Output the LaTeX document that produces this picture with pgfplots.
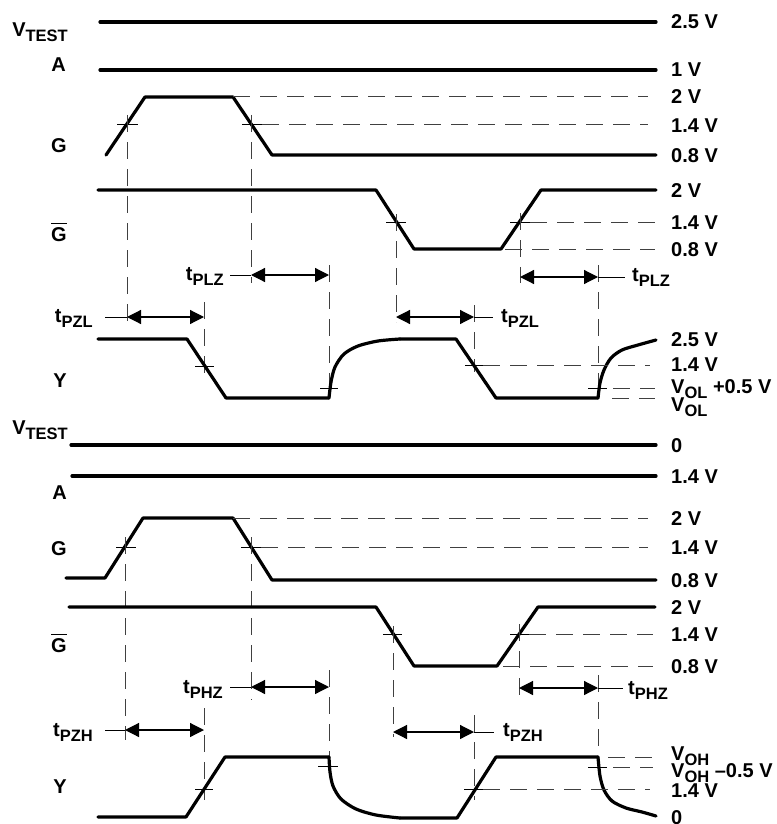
\documentclass[border=0pt]{standalone}
\usepackage{fontspec}
\setmainfont{Liberation Sans}
\usepackage{pgfplots}
\pgfplotsset{compat=1.18}
\usetikzlibrary{arrows.meta}
\newcommand\sub[1]{\raisebox{-5pt}{\fontsize{16.5}{16}\selectfont #1}}
\newcommand\gbar{\setbox0\hbox{G}\rlap{\raisebox{17pt}{\rule{\wd0}{1.4pt}}}\box0}
\tikzset{
 sig/.style={black, line width=3.2pt, line cap=round, line join=round},
 dsh/.style={black!75, line width=1pt, dash pattern=on 17pt off 10pt},
 thn/.style={black, line width=1pt},
 arr/.style={black, line width=1.2pt, {Triangle[length=14pt,width=14pt]}-{Triangle[length=14pt,width=14pt]}},
 lab/.style={font=\fontsize{20}{22}\selectfont\bfseries, inner sep=0pt},
}
\begin{document}
\begin{tikzpicture}
\begin{axis}[x=1pt, y=1pt, y dir=reverse, xmin=0, xmax=776, ymin=0, ymax=824,
  hide axis, clip=false]
\coordinate (BL) at (axis cs:0,824);
\coordinate (TR) at (axis cs:776,0);
% ================= TOP (LOW) SECTION =================
\addplot[sig] coordinates {(100,22) (656,22)};
\addplot[sig] coordinates {(100,70) (656,70)};
% G
\addplot[sig] coordinates {(106,155) (145,97) (233,97) (272,155) (656,155)};
\addplot[dsh] coordinates {(233,97) (648,97)};
\addplot[thn] coordinates {(117,125) (138,125)};
\addplot[thn] coordinates {(242,125) (262,125)};
\addplot[dsh] coordinates {(262,125) (648,125)};
\addplot[dsh] coordinates {(127,115) (127,328)};
\addplot[dsh] coordinates {(251,115) (251,283)};
% Gbar
\addplot[sig] coordinates {(98,190) (376,190) (414,249) (501,249) (541,190) (656,190)};
\addplot[thn] coordinates {(386,222) (406,222)};
\addplot[thn] coordinates {(510,222) (530,222)};
\addplot[dsh] coordinates {(530,222) (655,222)};
\addplot[dsh] coordinates {(505,249) (655,249)};
\addplot[dsh] coordinates {(396,214) (396,322)};
\addplot[dsh] coordinates {(520,213) (520,283)};
% arrow verticals
\addplot[dsh] coordinates {(329,265) (329,392)};
\addplot[dsh] coordinates {(598,265) (598,393)};
\addplot[dsh] coordinates {(204,302) (204,377)};
\addplot[dsh] coordinates {(474,305) (474,372)};
% arrows
\addplot[arr] coordinates {(251,275) (329,275)};
\addplot[arr] coordinates {(127,317) (204,317)};
\addplot[arr] coordinates {(520,277) (598,277)};
\addplot[arr] coordinates {(396,317) (474,317)};
\addplot[thn] coordinates {(230,275) (251,275)};
\addplot[thn] coordinates {(105,317) (127,317)};
\addplot[thn] coordinates {(598,277) (625,277)};
\addplot[thn] coordinates {(474,317) (493,317)};
% Y
\addplot[sig] coordinates {(98,339) (187,339) (226,398) (329,398)};
\addplot[sig, smooth] coordinates {(329,398) (331,382) (335,367) (344,354) (358,346) (378,341) (400,339)};
\addplot[sig] coordinates {(400,339) (456,339) (496,398) (598,398)};
\addplot[sig, smooth] coordinates {(598,398) (600,383) (604,370) (611,358) (622,350) (638,345) (656,340)};
\addplot[thn] coordinates {(195,366) (214,366)};
\addplot[thn] coordinates {(465,365) (483,365)};
\addplot[dsh] coordinates {(483,365) (650,365)};
\addplot[thn] coordinates {(320,388) (338,388)};
\addplot[thn] coordinates {(588,388) (607,388)};
\addplot[dsh] coordinates {(613,388) (655,388)};
\addplot[dsh] coordinates {(612,398) (655,398)};
% labels left
\node[lab, anchor=base east] at (axis cs:68,37) {V\sub{TEST}};
\node[lab, anchor=base east] at (axis cs:66,72) {A};
\node[lab, anchor=base east] at (axis cs:67,152) {G};
\node[lab, anchor=base east] at (axis cs:67,241) {\gbar};
\node[lab, anchor=base east] at (axis cs:224,280) {t\sub{PLZ}};
\node[lab, anchor=base east] at (axis cs:93,322) {t\sub{PZL}};
\node[lab, anchor=base east] at (axis cs:67,387) {Y};
\node[lab, anchor=base west] at (axis cs:632,281) {t\sub{PLZ}};
\node[lab, anchor=base west] at (axis cs:501,322) {t\sub{PZL}};
% labels right
\node[lab, anchor=base west] at (axis cs:671,29) {2.5 V};
\node[lab, anchor=base west] at (axis cs:671,77) {1 V};
\node[lab, anchor=base west] at (axis cs:671,104) {2 V};
\node[lab, anchor=base west] at (axis cs:671,132) {1.4 V};
\node[lab, anchor=base west] at (axis cs:671,162) {0.8 V};
\node[lab, anchor=base west] at (axis cs:671,197) {2 V};
\node[lab, anchor=base west] at (axis cs:671,229) {1.4 V};
\node[lab, anchor=base west] at (axis cs:671,256) {0.8 V};
\node[lab, anchor=base west] at (axis cs:671,346) {2.5 V};
\node[lab, anchor=base west] at (axis cs:671,371) {1.4 V};
\node[lab, anchor=base west] at (axis cs:671,393) {V\sub{OL} +0.5 V};
\node[lab, anchor=base west] at (axis cs:671,411) {V\sub{OL}};
% ================= BOTTOM (HIGH) SECTION =================
\addplot[sig] coordinates {(71,445) (656,445)};
\addplot[sig] coordinates {(72,476) (656,476)};
% G
\addplot[sig] coordinates {(66,578) (105,578) (143,518) (233,518) (272,580) (656,580)};
\addplot[dsh] coordinates {(233,518) (648,518)};
\addplot[thn] coordinates {(116,547) (136,547)};
\addplot[thn] coordinates {(241,547) (261,547)};
\addplot[dsh] coordinates {(261,547) (648,547)};
\addplot[dsh] coordinates {(125,537) (125,740)};
\addplot[dsh] coordinates {(251,537) (251,700)};
% Gbar
\addplot[sig] coordinates {(69,607) (376,607) (414,666) (497,666) (538,607) (655,607)};
\addplot[thn] coordinates {(383,634) (402,634)};
\addplot[thn] coordinates {(510,634) (529,634)};
\addplot[dsh] coordinates {(529,634) (653,634)};
\addplot[dsh] coordinates {(503,666) (653,666)};
\addplot[dsh] coordinates {(393,626) (393,737)};
\addplot[dsh] coordinates {(519,624) (519,697)};
% arrow verticals
\addplot[dsh] coordinates {(329,670) (329,777)};
\addplot[dsh] coordinates {(598,675) (598,777)};
\addplot[dsh] coordinates {(204,708) (204,800)};
\addplot[dsh] coordinates {(474,715) (474,800)};
% arrows
\addplot[arr] coordinates {(251,687) (329,687)};
\addplot[arr] coordinates {(125,730) (204,730)};
\addplot[arr] coordinates {(519,688) (598,688)};
\addplot[arr] coordinates {(393,732) (474,732)};
\addplot[thn] coordinates {(230,687) (251,687)};
\addplot[thn] coordinates {(105,730) (125,730)};
\addplot[thn] coordinates {(598,688) (623,688)};
\addplot[thn] coordinates {(474,732) (494,732)};
% Y
\addplot[sig] coordinates {(98,817) (186,817) (225,757) (329,757)};
\addplot[sig, smooth] coordinates {(329,757) (330,772) (333,786) (341,799) (356,809) (376,815) (400,818)};
\addplot[sig] coordinates {(400,818) (457,818) (496,757) (598,757)};
\addplot[sig, smooth] coordinates {(598,757) (600,776) (604,790) (612,801) (626,808) (642,812) (656,816)};
\addplot[thn] coordinates {(195,789) (213,789)};
\addplot[thn] coordinates {(464,789) (483,789)};
\addplot[dsh] coordinates {(483,789) (650,789)};
\addplot[thn] coordinates {(318,766) (338,766)};
\addplot[thn] coordinates {(588,767) (607,767)};
\addplot[dsh] coordinates {(613,767) (653,767)};
\addplot[dsh] coordinates {(608,757) (653,757)};
% labels left
\node[lab, anchor=base east] at (axis cs:68,434) {V\sub{TEST}};
\node[lab, anchor=base east] at (axis cs:67,499) {A};
\node[lab, anchor=base east] at (axis cs:67,555) {G};
\node[lab, anchor=base east] at (axis cs:67,652) {\gbar};
\node[lab, anchor=base east] at (axis cs:223,693) {t\sub{PHZ}};
\node[lab, anchor=base east] at (axis cs:93,736) {t\sub{PZH}};
\node[lab, anchor=base east] at (axis cs:67,793) {Y};
\node[lab, anchor=base west] at (axis cs:628,694) {t\sub{PHZ}};
\node[lab, anchor=base west] at (axis cs:503,736) {t\sub{PZH}};
% labels right
\node[lab, anchor=base west] at (axis cs:671,452) {0};
\node[lab, anchor=base west] at (axis cs:671,483) {1.4 V};
\node[lab, anchor=base west] at (axis cs:671,525) {2 V};
\node[lab, anchor=base west] at (axis cs:671,554) {1.4 V};
\node[lab, anchor=base west] at (axis cs:671,587) {0.8 V};
\node[lab, anchor=base west] at (axis cs:671,614) {2 V};
\node[lab, anchor=base west] at (axis cs:671,641) {1.4 V};
\node[lab, anchor=base west] at (axis cs:671,673) {0.8 V};
\node[lab, anchor=base west] at (axis cs:671,760) {V\sub{OH}};
\node[lab, anchor=base west] at (axis cs:671,777) {V\sub{OH} –0.5 V};
\node[lab, anchor=base west] at (axis cs:671,797) {1.4 V};
\node[lab, anchor=base west] at (axis cs:671,824) {0};
\end{axis}
\pgfresetboundingbox
\useasboundingbox (BL) rectangle (TR);
\end{tikzpicture}
\end{document}
